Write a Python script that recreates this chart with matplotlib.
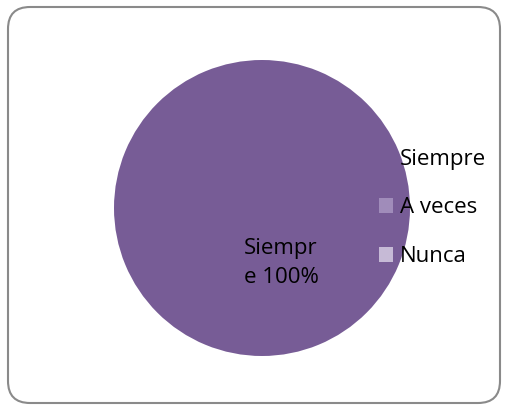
import matplotlib
matplotlib.use("Agg")
import matplotlib.pyplot as plt
from matplotlib.patches import FancyBboxPatch, Rectangle

labels = ["Siempre", "A veces", "Nunca"]
values = [100, 0, 0]
colors = ["#775C96", "#A08CBA", "#C6BAD6"]

W, H = 507, 407
fig = plt.figure(figsize=(W / 100, H / 100), dpi=100)
ax = fig.add_axes([0, 0, 1, 1])

# rounded chart border
ax.add_patch(FancyBboxPatch((8, 4), 492, 396, boxstyle="round,pad=0,rounding_size=22",
                            fc="white", ec="#8a8a8a", lw=1.5, zorder=0))

wedges, _ = ax.pie(values, colors=colors, startangle=90, counterclock=False,
                   center=(262, 199), radius=148, frame=True)
ax.set_xlim(0, W)
ax.set_ylim(0, H)
ax.set_aspect("equal")
ax.axis("off")

ax.text(281, 144, f"{labels[0][:6]}\n{labels[0][6:]} {values[0]}%", ha="center", va="center",
        fontsize=16, family="Open Sans", linespacing=1.5, zorder=4)

handles = [Rectangle((0, 0), 1, 1, fc=c, ec="none") for c in colors]
leg = ax.legend(handles, labels, loc="center left", bbox_to_anchor=(379 / W, 1 - 208 / H),
                frameon=False, handlelength=0.65, handleheight=0.65, handletextpad=0.3,
                labelspacing=1.25, borderpad=0, borderaxespad=0,
                prop={"family": "Open Sans", "size": 16})

fig.savefig("out.png", dpi=100)
